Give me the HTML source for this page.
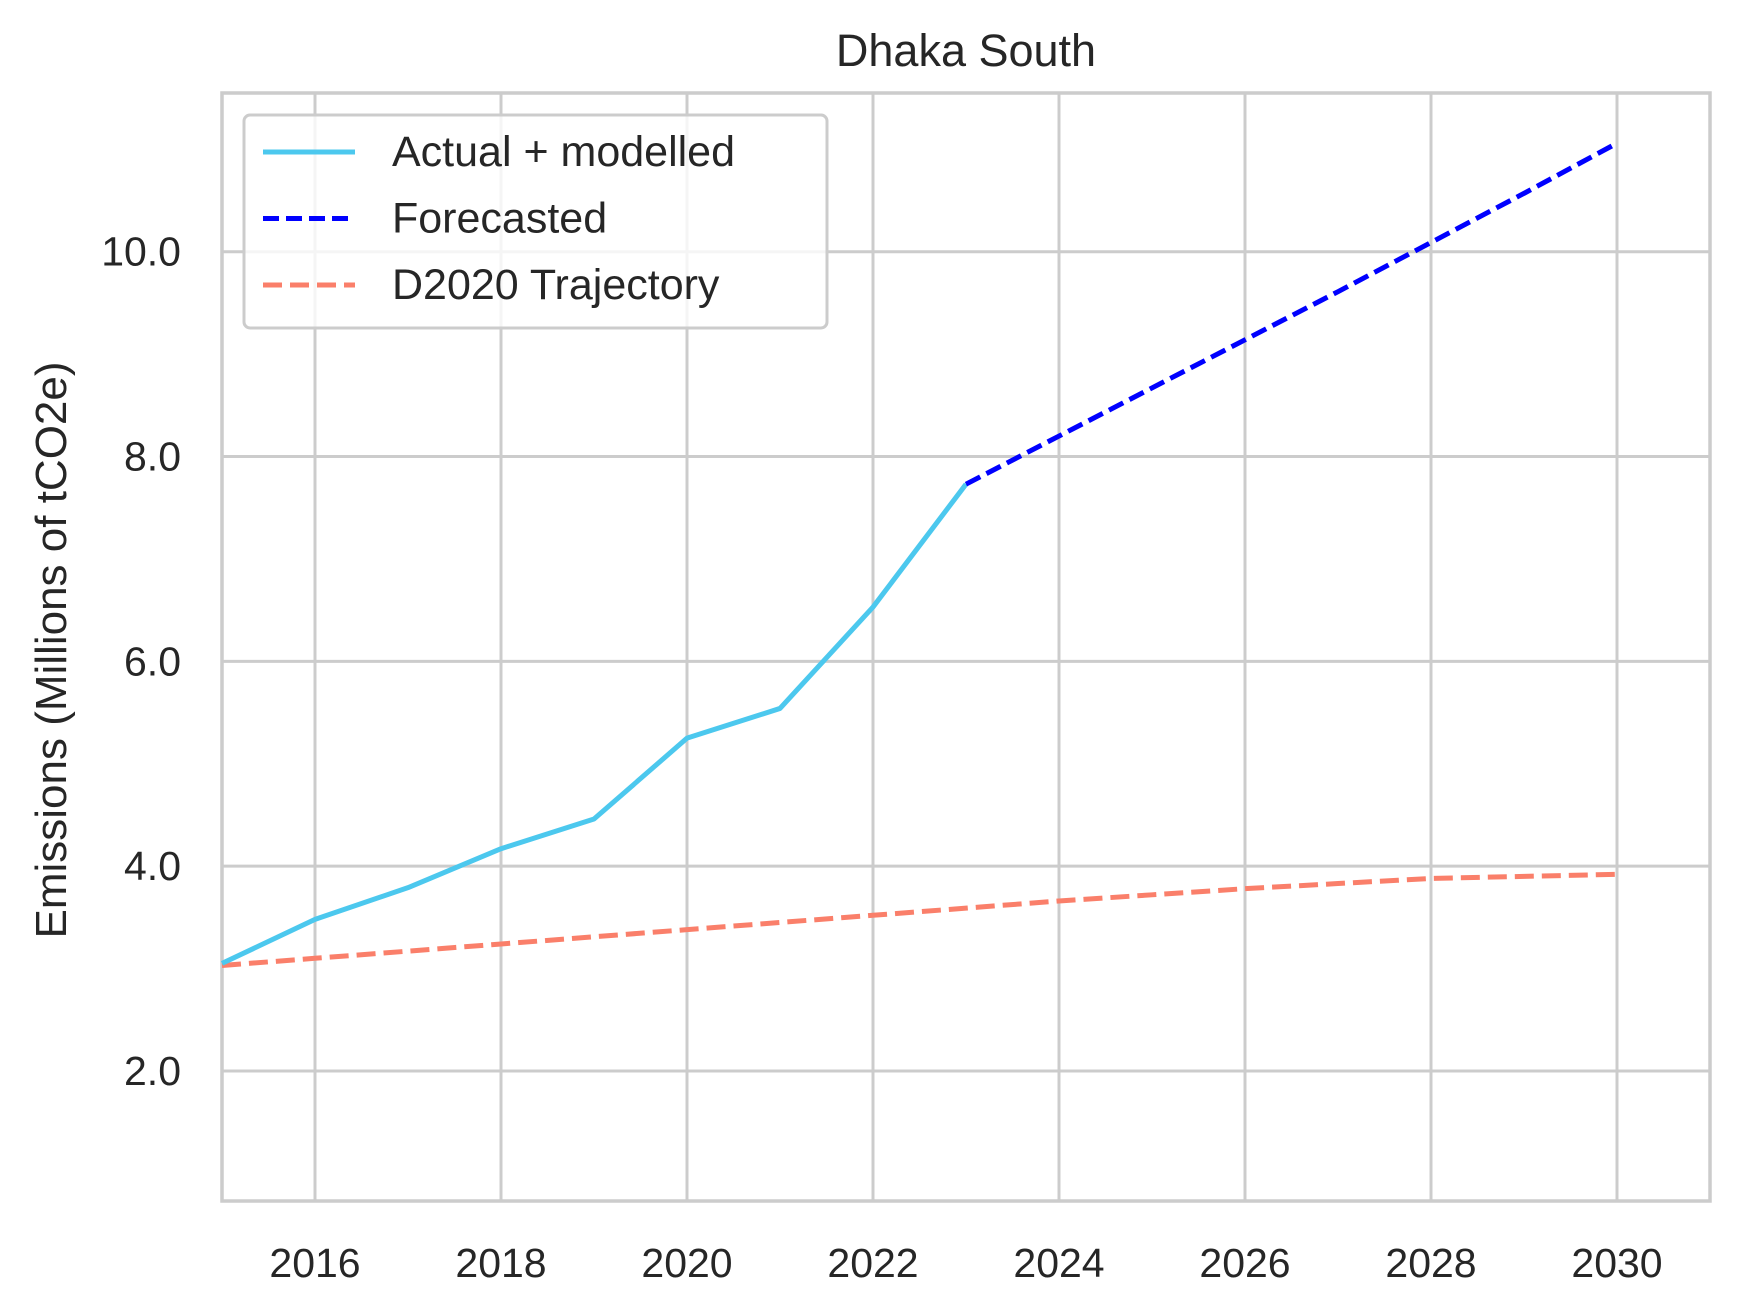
<!DOCTYPE html>
<html><head><meta charset="utf-8"><style>
html,body{margin:0;padding:0;background:#fff;}
svg{display:block;font-family:"Liberation Sans",sans-serif;}
</style></head><body>
<svg id="chart" width="1739" height="1314" viewBox="0 0 1739 1314"></svg>
<script>
const actualYears=[2015,2016,2017,2018,2019,2020,2021,2022,2023];
const actualValues=[3.05,3.48,3.79,4.17,4.46,5.25,5.54,6.53,7.73];
const forecastYears=[2023,2024,2025,2026,2027,2028,2029,2030];
const forecastValues=[7.73,8.20,8.67,9.14,9.61,10.09,10.57,11.06];
const trajYears=[2015,2016,2017,2018,2019,2020,2021,2022,2023,2024,2025,2026,2027,2028,2029,2030];
const trajValues=[3.03,3.10,3.17,3.24,3.31,3.38,3.45,3.52,3.59,3.66,3.72,3.78,3.83,3.88,3.90,3.92];
const xTicks=[2016,2018,2020,2022,2024,2026,2028,2030];
const yTicks=[2.0,4.0,6.0,8.0,10.0];

const NS="http://www.w3.org/2000/svg";
const svg=document.getElementById('chart');
const L=222,R=1710,T=93,B=1201;
const X0=2015,X1=2031,Y0=0.73,Y1=11.55;
const sx=v=>L+(v-X0)/(X1-X0)*(R-L);
const sy=v=>B-(v-Y0)/(Y1-Y0)*(B-T);
function mk(tag,attrs,parent){const e=document.createElementNS(NS,tag);for(const k in attrs)e.setAttribute(k,attrs[k]);(parent||svg).appendChild(e);return e;}

const grid=mk('g',{});


xTicks.forEach(t=>{
  const l=mk('line',{x1:sx(t),x2:sx(t),y1:T,y2:B,stroke:'#cccccc','stroke-width':3},grid);
  
  
  const tx=mk('text',{x:sx(t),y:1277,'text-anchor':'middle','font-size':41,fill:'#262626'});
  tx.textContent=t;
  
  
});
yTicks.forEach(t=>{
  const l=mk('line',{x1:L,x2:R,y1:sy(t),y2:sy(t),stroke:'#cccccc','stroke-width':3},grid);
  
  
  const tx=mk('text',{x:181,y:sy(t)+14,'text-anchor':'end','font-size':41,fill:'#262626'});
  tx.textContent=t.toFixed(1);
  
  
});
const frame=mk('rect',{x:L,y:T,width:R-L,height:B-T,fill:'none',stroke:'#cccccc','stroke-width':3.5});



function line(xs,ys,color,dash,name){
  const p=mk('polyline',{points:xs.map((x,i)=>sx(x)+','+sy(ys[i])).join(' '),fill:'none',stroke:color,'stroke-width':5,'stroke-dasharray':dash,'stroke-linejoin':'round'});
  
  
}
line(trajYears,trajValues,'#fa7f6a','19,8','d2020-trajectory-line');
line(actualYears,actualValues,'#4cc8ee','none','actual-modelled-line');
line(forecastYears,forecastValues,'#0000ff','16,7','forecasted-line');

const title=mk('text',{x:966,y:66,'text-anchor':'middle','font-size':45,fill:'#262626'});
title.textContent='Dhaka South';


const yl=mk('text',{x:0,y:0,'text-anchor':'middle','font-size':44,fill:'#262626',transform:'translate(66,650) rotate(-90)'});
yl.textContent='Emissions (Millions of tCO2e)';



const lg=mk('g',{});


mk('rect',{x:244,y:115,width:583,height:213,rx:6,fill:'#fff','fill-opacity':0.8,stroke:'#cccccc','stroke-width':3},lg);
const items=[['Actual + modelled','#4cc8ee','none'],['Forecasted','#0000ff','16,7'],['D2020 Trajectory','#fa7f6a','19,8']];
items.forEach((it,i)=>{
  const y=152+i*66.5;
  const g=mk('g',{},lg);
  
  
  mk('line',{x1:263,x2:355,y1:y,y2:y,stroke:it[1],'stroke-width':5,'stroke-dasharray':it[2]},g);
  const t=mk('text',{x:392,y:y+14,'font-size':43,fill:'#262626'},g);
  t.textContent=it[0];
});
</script>
</body></html>
